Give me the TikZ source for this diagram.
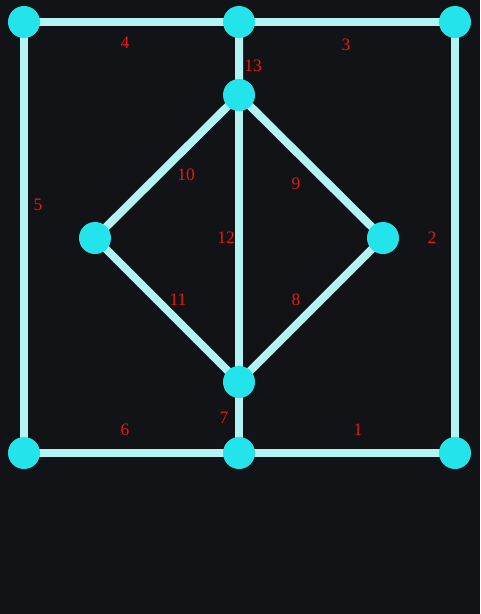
\documentclass[tikz,border=0pt]{standalone}
\usepackage{fontspec}
\setmainfont{Liberation Serif}
\definecolor{board}{RGB}{17,19,23}
\definecolor{wire}{RGB}{178,244,244}
\definecolor{knob}{RGB}{34,228,234}
\definecolor{tag}{RGB}{230,24,24}
\tikzset{
  wirestyle/.style={line width=8pt,wire},
  dot/.style={circle,fill=knob,minimum size=32pt,inner sep=0pt},
  num/.style={text=tag,font=\fontsize{17.5}{17.5}\selectfont,inner sep=0pt},
}
\begin{document}
\begin{tikzpicture}[x=1pt,y=-1pt]
  \fill[board] (0,0) rectangle (480,614);%<- dark board
  \useasboundingbox (0,0) rectangle (480,614);
  \coordinate (TL) at (24,22);
  \coordinate (TM) at (239,22);
  \coordinate (TR) at (455,22);
  \coordinate (Top) at (239,95);
  \coordinate (Left) at (95,238);
  \coordinate (Right) at (383,238);
  \coordinate (Bot) at (239,382);
  \coordinate (BL) at (24,453);
  \coordinate (BM) at (239,453);
  \coordinate (BR) at (455,453);
  \draw[wirestyle] (TL) -- (TR) -- (BR) -- (BL) -- cycle;
  \draw[wirestyle] (TM) -- (Top) -- (Right) -- (Bot) -- (Left) -- (Top);
  \draw[wirestyle] (Top) -- (Bot) -- (BM);
  \foreach \p in {TL,TM,TR,Top,Left,Right,Bot,BL,BM,BR}
    \node[dot] (dot\p) at (\p) {};
  % edge numbers
  \node[num] (n1) at (358,430) {1};
  \node[num] (n2) at (432,238) {2};
  \node[num] (n3) at (346,45) {3};
  \node[num] (n4) at (125,43) {4};
  \node[num] (n5) at (38,205) {5};
  \node[num] (n6) at (125,430) {6};
  \node[num] (n7) at (224,418) {7};
  \node[num] (n8) at (296,300) {8};
  \node[num] (n9) at (296,184) {9};
  \node[num] (n10) at (186,175) {10};
  \node[num] (n11) at (178,300) {11};
  \node[num] (n12) at (226,238) {12};
  \node[num] (n13) at (253,66) {13};
\end{tikzpicture}
\end{document}
